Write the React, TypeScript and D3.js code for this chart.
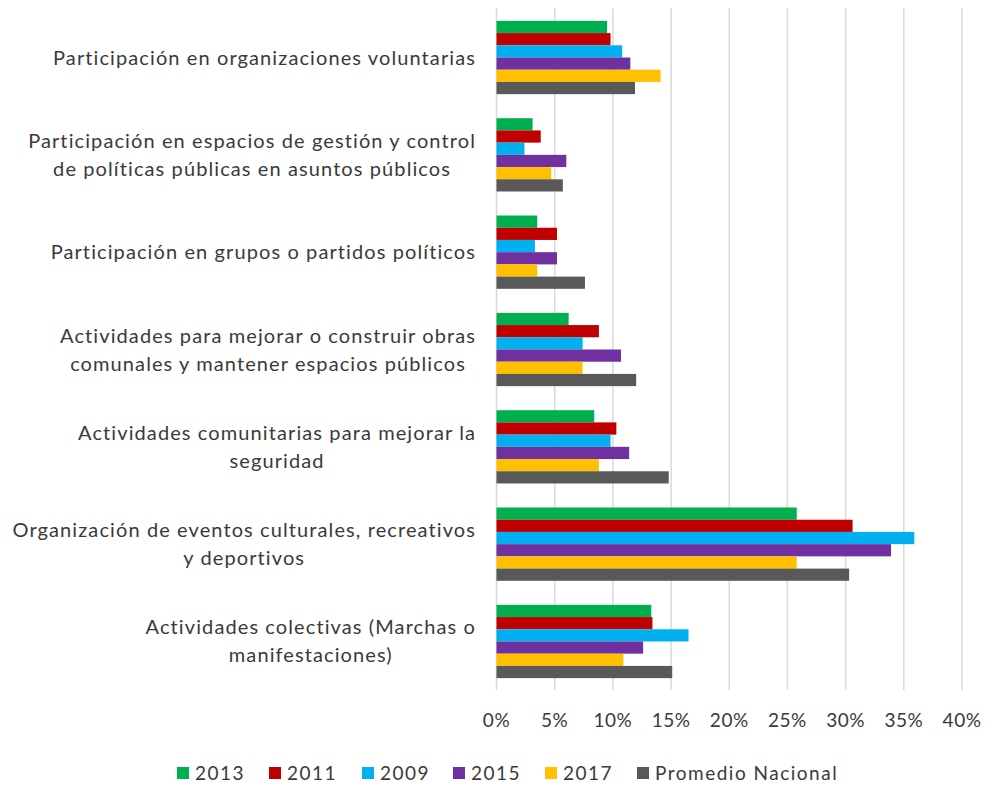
import React from "react";
import * as d3 from "d3";

const categories = [
  ["Participación en organizaciones voluntarias"],
  ["Participación en espacios de gestión y control", "de políticas públicas en asuntos públicos"],
  ["Participación en grupos o partidos políticos"],
  ["Actividades para mejorar o construir obras", "comunales y  mantener espacios públicos"],
  ["Actividades comunitarias para mejorar la", "seguridad"],
  ["Organización de eventos culturales, recreativos", "y deportivos"],
  ["Actividades colectivas (Marchas o", "manifestaciones)"],
];

const seriesNames = ["2013", "2011", "2009", "2015", "2017", "Promedio Nacional"];
const seriesColors = ["#00B050", "#C00000", "#00B0F0", "#7030A0", "#FFC000", "#595959"];

const v2013 = [9.5, 3.1, 3.5, 6.2, 8.4, 25.8, 13.3];
const v2011 = [9.8, 3.8, 5.2, 8.8, 10.3, 30.6, 13.4];
const v2009 = [10.8, 2.4, 3.3, 7.4, 9.8, 35.9, 16.5];
const v2015 = [11.5, 6.0, 5.2, 10.7, 11.4, 33.9, 12.6];
const v2017 = [14.1, 4.7, 3.5, 7.4, 8.8, 25.8, 10.9];
const vProm = [11.9, 5.7, 7.6, 12.0, 14.8, 30.3, 15.1];

const seriesValues = [v2013, v2011, v2009, v2015, v2017, vProm];
const ticks = [0, 5, 10, 15, 20, 25, 30, 35, 40];

const W = 987;
const H = 787;
const FONT = "Lato, 'Open Sans', sans-serif";

export default function App() {
  const x = d3.scaleLinear().domain([0, 40]).range([496.5, 962]);
  const y = d3
    .scaleBand<number>()
    .domain(d3.range(categories.length))
    .range([9, 690])
    .paddingInner(0.247)
    .paddingOuter(0.122);
  const ys = d3
    .scaleBand<number>()
    .domain(d3.range(seriesNames.length))
    .range([0, y.bandwidth()]);

  const labelRight = 476;
  const lineH = 28;
  const legendX = [177, 269, 362, 453, 545, 637];

  return (
    <svg
      width={W}
      height={H}
      style={{ position: "absolute", left: 0, top: 0, background: "#fff" }}
      fontFamily={FONT}
    >
      <rect width={W} height={H} fill="#fff" />
      {ticks.map((t) => (
        <line
          key={t}
          x1={x(t)}
          x2={x(t)}
          y1={8}
          y2={690}
          stroke="#d9d9d9"
          strokeWidth={1.5}
        />
      ))}
      {categories.map((_, ci) =>
        seriesValues.map((vals, si) => (
          <rect
            key={`${ci}-${si}`}
            x={x(0)}
            y={(y(ci) as number) + (ys(si) as number)}
            width={x(vals[ci]) - x(0)}
            height={ys.bandwidth()}
            fill={seriesColors[si]}
          />
        ))
      )}
      {categories.map((lines, ci) => {
        const cy = (y(ci) as number) + y.bandwidth() / 2;
        const top = cy - ((lines.length - 1) * lineH) / 2;
        return (
          <CategoryLabel key={ci} lines={lines} right={labelRight} top={top} lineH={lineH} />
        );
      })}
      {ticks.map((t) => (
        <text
          key={t}
          x={x(t)}
          y={727}
          textAnchor="middle"
          fontSize={19}
          letterSpacing={0.5}
          fill="#3a3a3a"
        >
          {t}%
        </text>
      ))}
      {seriesNames.map((n, i) => (
        <g key={n}>
          <rect x={legendX[i]} y={767} width={12} height={12} fill={seriesColors[i]} />
          <text x={legendX[i] + 18} y={780} fontSize={19} letterSpacing={1.5} fill="#3a3a3a">
            {n}
          </text>
        </g>
      ))}
    </svg>
  );
}

function CategoryLabel({
  lines,
  right,
  top,
  lineH,
}: {
  lines: string[];
  right: number;
  top: number;
  lineH: number;
}) {
  const ref = React.useRef<SVGGElement>(null);
  React.useLayoutEffect(() => {
    const g = ref.current;
    if (!g) return;
    const texts = Array.from(g.querySelectorAll("text")) as SVGTextElement[];
    const widths = texts.map((t) => t.getComputedTextLength());
    const maxW = Math.max(...widths);
    const center = right - maxW / 2;
    texts.forEach((t) => t.setAttribute("x", String(center)));
  }, [lines, right]);
  return (
    <g ref={ref}>
      {lines.map((l, i) => (
        <text
          key={i}
          x={right}
          y={top + i * lineH + 7}
          textAnchor="middle"
          fontSize={20}
          letterSpacing={1.1}
          fill="#3a3a3a"
        >
          {l}
        </text>
      ))}
    </g>
  );
}
